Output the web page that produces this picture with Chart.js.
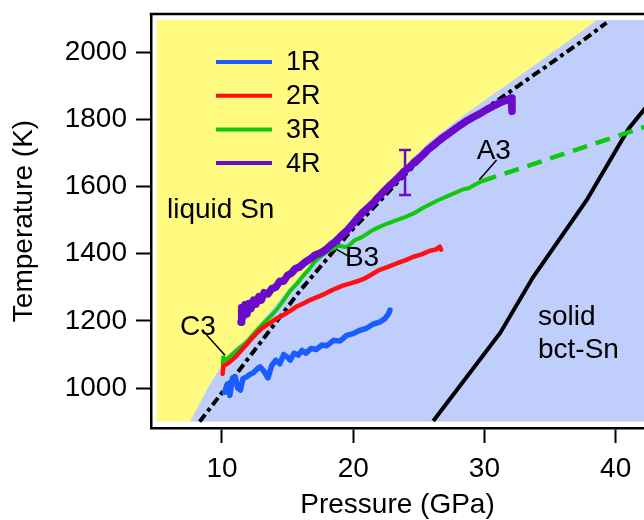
<!DOCTYPE html>
<html>
<head>
<meta charset="utf-8">
<script src="https://cdn.jsdelivr.net/npm/chart.js@4.4.1/dist/chart.umd.min.js"></script>
<style>
  html, body { margin: 0; padding: 0; background: #fff; overflow: hidden; }
  canvas { display: block; }
</style>
</head>
<body>
<canvas id="phaseChart" width="644" height="520"></canvas>
<script>
// axis ticks
const xTicks = [10, 20, 30, 40];
const yTicks = [1000, 1200, 1400, 1600, 1800, 2000];

// run 1R
const r1P = [10.2, 10.4, 10.6, 10.8, 11.0, 11.2, 11.4, 11.6, 11.9, 12.1, 12.4, 12.7, 12.9, 13.2, 13.5, 13.8, 14.1, 14.4, 14.7, 15.0, 15.2, 15.5, 15.8, 16.1, 16.4, 16.8, 17.2, 17.6, 18.0, 18.5, 19.0, 19.5, 20.0, 20.5, 21.0, 21.5, 22.0, 22.4, 22.7, 22.8];
const r1T = [988, 1012, 978, 1030, 1034, 1000, 994, 1028, 1034, 1040, 1046, 1058, 1063, 1050, 1030, 1068, 1083, 1072, 1100, 1092, 1083, 1104, 1098, 1112, 1104, 1118, 1115, 1128, 1126, 1142, 1140, 1157, 1162, 1172, 1178, 1190, 1196, 1206, 1222, 1232];

// run 2R
const r2P = [10.05, 10.1, 10.3, 10.6, 11.0, 11.6, 12.1, 12.6, 13.1, 13.7, 14.2, 14.7, 15.2, 15.7, 16.2, 16.7, 17.2, 17.7, 18.2, 18.7, 19.2, 19.8, 20.3, 20.8, 21.4, 22.0, 22.6, 23.3, 24.0, 24.6, 25.2, 25.8, 26.3, 26.6, 26.7];
const r2T = [1042, 1066, 1070, 1078, 1092, 1118, 1140, 1162, 1180, 1195, 1208, 1218, 1230, 1243, 1252, 1262, 1270, 1278, 1288, 1297, 1305, 1312, 1318, 1325, 1338, 1352, 1360, 1371, 1381, 1391, 1398, 1408, 1413, 1421, 1412];

// run 3R (solid part)
const r3P = [10.05, 10.1, 10.3, 10.7, 11.1, 11.5, 11.9, 12.3, 12.7, 13.1, 13.5, 13.9, 14.3, 14.7, 15.2, 15.7, 16.2, 16.6, 17.1, 17.6, 18.2, 18.9, 19.4, 19.7, 20.1, 20.7, 21.3, 22.0, 22.6, 23.3, 24.0, 24.6, 25.3, 25.9, 26.5, 27.1, 27.8, 28.4, 28.8, 29.3, 29.8];
const r3T = [1072, 1092, 1084, 1098, 1112, 1124, 1138, 1156, 1174, 1190, 1206, 1222, 1240, 1262, 1290, 1310, 1335, 1352, 1378, 1395, 1410, 1424, 1420, 1425, 1440, 1450, 1466, 1480, 1490, 1500, 1510, 1520, 1536, 1548, 1560, 1570, 1582, 1592, 1595, 1606, 1616];

// run 3R extrapolation (dashed)
const r3xP = [29.8, 43.0];
const r3xT = [1616, 1788];

// run 4R
const r4P = [11.45, 11.5, 11.6, 11.75, 11.9, 12.05, 12.2, 12.4, 12.6, 12.8, 13.0, 13.2, 13.5, 13.8, 14.1, 14.4, 14.7, 15.0, 15.3, 15.6, 15.9, 16.3, 16.7, 17.1, 17.5, 17.9, 18.3, 18.7, 19.1, 19.5, 19.9, 20.3, 20.7, 21.1, 21.5, 21.9, 22.3, 22.7, 23.1, 23.5, 23.9, 24.3, 24.7, 25.2, 25.7, 26.2, 26.7, 27.2, 27.7, 28.2, 28.7, 29.2, 29.7, 30.2, 30.7, 31.2, 31.7, 32.05, 32.1];
const r4T = [1196, 1240, 1212, 1248, 1220, 1252, 1236, 1262, 1250, 1272, 1262, 1284, 1280, 1296, 1300, 1318, 1318, 1336, 1342, 1356, 1360, 1374, 1384, 1396, 1402, 1412, 1426, 1438, 1454, 1468, 1486, 1504, 1522, 1536, 1550, 1568, 1584, 1600, 1614, 1630, 1646, 1658, 1674, 1690, 1710, 1726, 1742, 1756, 1770, 1784, 1797, 1808, 1818, 1830, 1840, 1850, 1858, 1864, 1824];

// error bar on 4R
const errP = [23.95];
const errT = [1642];
const errHalf = [67];

// melting curve (dash-dot)
const meltP = [8.3, 10.0, 12.0, 14.0, 15.95, 17.9, 19.76, 21.5, 23.5, 25.85, 28.0, 30.2, 32.5, 35.0, 37.5, 39.3];
const meltT = [900, 986, 1088, 1190, 1290, 1380, 1465, 1535, 1618, 1709, 1775, 1835, 1898, 1966, 2035, 2088];

// solid phase boundary
const bctP = [26.1, 31.2, 33.7, 37.8, 41.0, 42.6];
const bctT = [902, 1164, 1330, 1560, 1773, 1850];

// liquid / solid shading boundary
const shadeP = [7.56, 9.1, 10.1, 11.1, 12.0, 13.4, 15.2, 16.5, 18.2, 19.8, 21.5, 23.5, 25.85, 28.0, 30.2, 32.5, 35.0, 37.5, 38.55, 42.2];
const shadeT = [900, 1013, 1075, 1122, 1150, 1215, 1300, 1357, 1420, 1488, 1560, 1645, 1735, 1800, 1862, 1925, 1995, 2064, 2096, 2096];

// extent of shaded region
const boxP = [5, 42.2];
const boxTop = 2096;
const boxBottom = 900;

// text labels (left / baseline in data units)
const noteText = ['liquid Sn', 'solid', 'bct-Sn', 'A3', 'B3', 'C3'];
const noteP = [5.81, 34.08, 34.08, 29.41, 19.37, 6.80];
const noteT = [1506, 1188, 1088, 1681, 1363, 1158];

// label leader lines
const leadP1 = [30.93, 18.69, 8.83];
const leadT1 = [1679, 1414, 1158];
const leadP2 = [29.61, 19.63, 10.23];
const leadT2 = [1620, 1393, 1098];

const runLabels = ['1R', '2R', '3R', '4R'];
const runColors = ['#1a5cff', '#ff1010', '#10c810', '#6a0acb'];

const FONT = '"Liberation Sans", Arial, sans-serif';

function pts(px, py) {
    return px.map((p, i) => ({ x: p, y: py[i] }));
}

function runSet(i, px, py, width, order) {
    return {
        label: runLabels[i],
        data: pts(px, py),
        borderColor: runColors[i],
        borderWidth: width,
        pointRadius: 0,
        fill: false,
        order: order,
        borderJoinStyle: 'round',
        borderCapStyle: 'round'
    };
}

const topFrame = {
    id: 'topFrame',
    afterDraw(chart) {
        const { ctx, chartArea } = chart;
        ctx.save();
        ctx.strokeStyle = '#000';
        ctx.lineWidth = 2.5;
        ctx.beginPath();
        ctx.moveTo(chartArea.left - 1.25, chartArea.top);
        ctx.lineTo(chartArea.right, chartArea.top);
        ctx.stroke();
        ctx.restore();
    }
};

const notes = {
    id: 'notes',
    afterDatasetsDraw(chart) {
        const { ctx, scales: { x, y } } = chart;
        ctx.save();
        // error bar
        ctx.strokeStyle = runColors[3];
        ctx.lineWidth = 2.5;
        errP.forEach((p, i) => {
            const cx = x.getPixelForValue(p);
            const y1 = y.getPixelForValue(errT[i] + errHalf[i]);
            const y2 = y.getPixelForValue(errT[i] - errHalf[i]);
            ctx.beginPath();
            ctx.moveTo(cx, y1); ctx.lineTo(cx, y2);
            ctx.moveTo(cx - 6, y1); ctx.lineTo(cx + 6, y1);
            ctx.moveTo(cx - 6, y2); ctx.lineTo(cx + 6, y2);
            ctx.stroke();
        });
        // leaders
        ctx.strokeStyle = '#000';
        ctx.lineWidth = 1.5;
        leadP1.forEach((p, i) => {
            ctx.beginPath();
            ctx.moveTo(x.getPixelForValue(p), y.getPixelForValue(leadT1[i]));
            ctx.lineTo(x.getPixelForValue(leadP2[i]), y.getPixelForValue(leadT2[i]));
            ctx.stroke();
        });
        // labels
        ctx.fillStyle = '#000';
        ctx.font = '28px ' + FONT;
        ctx.textAlign = 'left';
        ctx.textBaseline = 'alphabetic';
        noteText.forEach((t, i) => {
            ctx.fillText(t, x.getPixelForValue(noteP[i]), y.getPixelForValue(noteT[i]));
        });
        ctx.restore();
    }
};

const runLegend = {
    id: 'runLegend',
    afterDraw(chart, args, opts) {
        const { ctx, chartArea } = chart;
        ctx.save();
        ctx.font = opts.size + 'px ' + FONT;
        ctx.textBaseline = 'middle';
        ctx.textAlign = 'left';
        runLabels.forEach((lab, i) => {
            const yy = chartArea.top + opts.top + i * opts.rowGap;
            const x0 = chartArea.left + opts.left;
            ctx.strokeStyle = runColors[i];
            ctx.lineWidth = 4;
            ctx.beginPath();
            ctx.moveTo(x0, yy);
            ctx.lineTo(x0 + opts.lineLen, yy);
            ctx.stroke();
            ctx.fillStyle = '#000';
            ctx.fillText(lab, x0 + opts.lineLen + opts.textGap, yy + 1);
        });
        ctx.restore();
    }
};

new Chart(document.getElementById('phaseChart'), {
    type: 'line',
    data: {
        datasets: [
            {
                label: 'liquid',
                data: [{ x: boxP[0], y: boxTop }, { x: boxP[1], y: boxTop }],
                borderWidth: 0,
                borderColor: 'transparent',
                backgroundColor: '#fffa80',
                pointRadius: 0,
                fill: { value: boxBottom },
                order: 9
            },
            {
                label: 'solid',
                data: pts(shadeP, shadeT),
                borderWidth: 0,
                borderColor: 'transparent',
                backgroundColor: '#bfcefa',
                pointRadius: 0,
                fill: { value: boxBottom },
                order: 8
            },
            {
                label: 'bct',
                data: pts(bctP, bctT),
                borderColor: '#000',
                borderWidth: 4,
                pointRadius: 0,
                fill: false,
                order: 7
            },
            {
                label: 'melt',
                data: pts(meltP, meltT),
                borderColor: '#000',
                borderWidth: 4,
                borderDash: [9, 4, 4, 4],
                pointRadius: 0,
                fill: false,
                order: 6
            },
            {
                label: '3R ext',
                data: pts(r3xP, r3xT),
                borderColor: runColors[2],
                borderWidth: 4.5,
                borderDash: [15, 9],
                pointRadius: 0,
                fill: false,
                order: 5
            },
            runSet(0, r1P, r1T, 5.5, 4),
            runSet(2, r3P, r3T, 4, 3),
            runSet(1, r2P, r2T, 4.5, 2),
            runSet(3, r4P, r4T, 7.5, 1)
        ]
    },
    options: {
        responsive: false,
        animation: false,
        events: [],
        layout: { padding: { top: 14, right: 0, left: 0, bottom: 0 } },
        plugins: {
            legend: { display: false },
            tooltip: { enabled: false },
            runLegend: { left: 65, top: 48, rowGap: 33.7, lineLen: 56, textGap: 14, size: 27 }
        },
        scales: {
            x: {
                type: 'linear',
                min: 4.59,
                max: 42.16,
                afterBuildTicks: s => { s.ticks = xTicks.map(v => ({ value: v })); },
                afterFit: s => { s.height = 92; s.paddingLeft = 0; s.paddingRight = 0; },
                ticks: { color: '#000', padding: 9, font: { family: FONT, size: 28 }, callback: v => String(v) },
                grid: { drawOnChartArea: false, drawTicks: true, tickLength: 15, tickWidth: 2, tickColor: '#000' },
                border: { display: true, color: '#000', width: 2.5 },
                title: { display: true, text: 'Pressure (GPa)', color: '#000', font: { family: FONT, size: 28, lineHeight: 1 }, padding: { top: 0, bottom: 1 } }
            },
            y: {
                min: 881,
                max: 2114,
                afterBuildTicks: s => { s.ticks = yTicks.map(v => ({ value: v })); },
                afterFit: s => { s.width = 151; s.paddingTop = 0; s.paddingBottom = 0; },
                ticks: { color: '#000', padding: 9, font: { family: FONT, size: 28 }, callback: v => String(v) },
                grid: { drawOnChartArea: false, drawTicks: true, tickLength: 15, tickWidth: 2, tickColor: '#000' },
                border: { display: true, color: '#000', width: 2.5 },
                title: { display: true, text: 'Temperature (K)', color: '#000', font: { family: FONT, size: 28, lineHeight: 1 }, padding: { top: 10, bottom: 0 } }
            }
        }
    },
    plugins: [topFrame, notes, runLegend]
});
</script>
</body>
</html>
